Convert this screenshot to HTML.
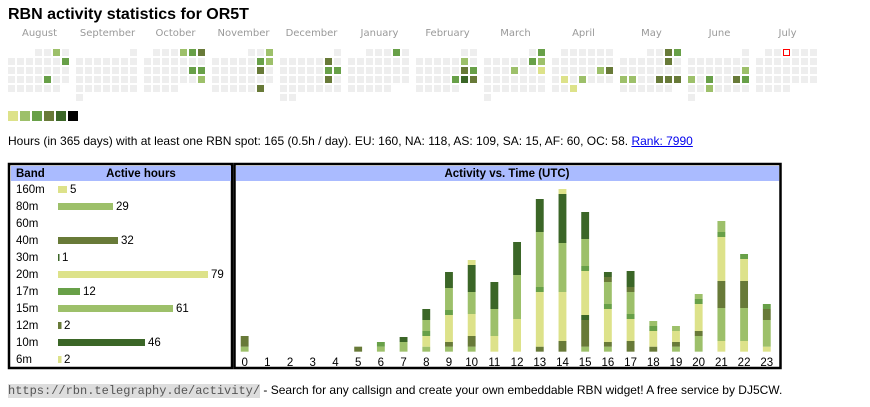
<!DOCTYPE html>
<html><head><meta charset="utf-8"><style>
body{margin:0;width:870px;height:407px;background:#fff;font-family:"Liberation Sans",Arial,sans-serif;position:relative;overflow:hidden;color:#000}
.a{position:absolute;white-space:nowrap}
.mon{position:absolute;top:28px;width:63px;text-align:center;color:#999;font-family:"DejaVu Sans",sans-serif;font-size:10px}
.cell{position:absolute;width:7px;height:7px;background:#eee;box-sizing:border-box}
</style></head><body>
<div class="a" style="left:8px;top:6px;font-size:16px;font-weight:bold">RBN activity statistics for OR5T</div>
<div id="hm"></div>
<div class="a" style="left:8px;top:111px;width:10px;height:10px;background:#dde28a"></div>
<div class="a" style="left:20px;top:111px;width:10px;height:10px;background:#9dc06a"></div>
<div class="a" style="left:32px;top:111px;width:10px;height:10px;background:#68a048"></div>
<div class="a" style="left:44px;top:111px;width:10px;height:10px;background:#687a38"></div>
<div class="a" style="left:56px;top:111px;width:10px;height:10px;background:#3b6627"></div>
<div class="a" style="left:68px;top:111px;width:10px;height:10px;background:#000"></div>
<div class="a" style="left:8px;top:134px;font-size:12px">Hours (in 365 days) with at least one RBN spot: 165 (0.5h / day). EU: 160, NA: 118, AS: 109, SA: 15, AF: 60, OC: 58. <span style="color:#00e;text-decoration:underline">Rank: 7990</span></div>

<svg class="a" style="left:0;top:0" width="870" height="407">
<rect x="9" y="164" width="223" height="204" fill="none" stroke="#000" stroke-width="2.5"/>
<rect x="11" y="166" width="220" height="15" fill="#aabbff"/>
<rect x="234.5" y="164" width="546" height="204" fill="none" stroke="#000" stroke-width="2.5"/>
<rect x="236" y="166" width="543" height="15" fill="#aabbff"/>
<g font-family="Liberation Sans,Arial,sans-serif" font-size="11.5" font-weight="bold">
<text x="16" y="177">Band</text><text x="141" y="177" text-anchor="middle">Active hours</text>
<text x="507" y="177" text-anchor="middle">Activity vs. Time (UTC)</text>
</g>
<g font-family="Liberation Sans,Arial,sans-serif" font-size="11.5">
<text x="16" y="193">160m</text><rect x="58" y="186" width="9" height="7" fill="#dde28a"/><text x="70" y="193">5</text>
<text x="16" y="210">80m</text><rect x="58" y="203" width="55" height="7" fill="#9dc06a"/><text x="116" y="210">29</text>
<text x="16" y="227">60m</text>
<text x="16" y="244">40m</text><rect x="58" y="237" width="60" height="7" fill="#687a38"/><text x="121" y="244">32</text>
<text x="16" y="261">30m</text><rect x="58" y="254" width="1.5" height="7" fill="#3b6627"/><text x="62" y="261">1</text>
<text x="16" y="278">20m</text><rect x="58" y="271" width="150" height="7" fill="#dde28a"/><text x="211" y="278">79</text>
<text x="16" y="295">17m</text><rect x="58" y="288" width="22" height="7" fill="#68a048"/><text x="83" y="295">12</text>
<text x="16" y="312">15m</text><rect x="58" y="305" width="115" height="7" fill="#9dc06a"/><text x="176" y="312">61</text>
<text x="16" y="329">12m</text><rect x="58" y="322" width="3.5" height="7" fill="#687a38"/><text x="64" y="329">2</text>
<text x="16" y="346">10m</text><rect x="58" y="339" width="87" height="7" fill="#3b6627"/><text x="148" y="346">46</text>
<text x="16" y="363">6m</text><rect x="58" y="356" width="3.5" height="7" fill="#dde28a"/><text x="64" y="363">2</text>
</g>
<g id="bars" transform="translate(230,165) scale(0.3575,0.33333)"></g>
<g id="hl" font-family="Liberation Sans,Arial,sans-serif" font-size="11.5" text-anchor="middle"></g>
</svg>

<div class="a" style="left:8px;top:383px;font-size:12px"><span style="font-family:'Liberation Mono',monospace;background:#ddd;color:#555;font-size:12px">https://rbn.telegraphy.de/activity/</span> - Search for any callsign and create your own embeddable RBN widget! A free service by DJ5CW.</div>

<script>
var C={1:'#dde28a',2:'#9dc06a',3:'#68a048',4:'#687a38',5:'#3b6627'};
var months=[['August',3,31],['September',6,30],['October',1,31],['November',4,30],['December',6,31],['January',2,31],['February',5,28],['March',5,31],['April',1,30],['May',3,31],['June',6,30],['July',1,31]];
var col={0:{'0,5':2,'1,6':3,'3,4':3},2:{'0,4':2,'0,5':3,'0,6':4,'2,5':3,'2,6':3,'3,6':2},
3:{'0,6':2,'1,5':3,'1,6':2,'2,5':4,'4,5':4},4:{'1,5':4,'2,5':3,'2,6':3,'3,5':4},5:{'0,5':3},
6:{'1,5':2,'2,5':4,'2,6':3,'3,4':3,'3,5':5,'3,6':4},7:{'0,6':3,'1,5':3,'1,6':2,'2,3':2,'2,6':1},
8:{'2,5':2,'2,6':4,'3,1':1,'3,3':2,'4,2':1},9:{'0,5':4,'0,6':3,'1,5':4,'3,0':2,'3,1':2,'3,4':4,'3,5':4,'3,6':4},
10:{'2,6':2,'3,0':2,'3,2':3,'3,5':4,'3,6':3,'4,2':2}};
var h='';
months.forEach(function(m,i){var x0=8+68*i;h+='<div class="mon" style="left:'+x0+'px">'+m[0]+'</div>';
for(var d=0;d<m[2];d++){var p=m[1]+d,r=Math.floor(p/7),c=p%7;var k=r+','+c;var bg=(col[i]&&col[i][k])?C[col[i][k]]:'#eee';
var extra='';if(i==11&&d==2){bg='#fff';extra='border:1px solid #f00;';}
h+='<div class="cell" style="left:'+(x0+9*c)+'px;top:'+(49+9*r)+'px;background:'+bg+';'+extra+'"></div>';}});
document.getElementById('hm').innerHTML=h;
var B={0:[[2,545,560],[4,513,545]],5:[[4,545,560]],6:[[2,545,560],[3,531,545]],7:[[2,531,560],[5,516,531]],
8:[[2,545,560],[1,513,545],[3,498,513],[2,465,498],[5,432,465]],
9:[[2,545,560],[4,531,545],[1,450,531],[3,435,450],[2,369,435],[5,321,369]],
10:[[2,545,560],[4,513,545],[1,447,513],[2,381,447],[5,300,381],[1,285,300]],
11:[[1,513,560],[2,432,513],[5,351,432]],12:[[1,462,560],[2,330,462],[5,231,330]],
13:[[4,545,560],[1,381,545],[3,366,381],[2,201,366],[5,102,201]],
14:[[4,528,560],[1,381,528],[2,234,381],[5,87,234],[1,72,87]],
15:[[2,545,560],[4,465,545],[5,450,465],[1,318,450],[3,303,318],[2,222,303],[5,141,222]],
16:[[2,545,560],[4,531,545],[1,432,531],[3,417,432],[2,351,417],[4,336,351],[5,321,336]],
17:[[4,528,560],[1,462,528],[3,447,462],[2,381,447],[4,366,381],[5,318,366]],
18:[[4,545,560],[1,498,545],[3,483,498],[2,468,483]],19:[[2,545,560],[4,531,545],[1,498,531],[2,483,498]],
20:[[2,513,560],[4,498,513],[1,417,498],[3,402,417],[2,387,402]],
21:[[1,528,560],[2,429,528],[4,348,429],[1,216,348],[3,201,216],[2,168,201]],
22:[[1,528,560],[2,429,528],[4,348,429],[1,282,348],[3,267,282]],
23:[[1,545,560],[2,465,545],[4,432,465],[3,417,432]]};
var s='',t='';
for(var hr=0;hr<24;hr++){var x=30+hr*63.5;(B[hr]||[]).forEach(function(g){s+='<rect x="'+x+'" y="'+g[1]+'" width="22" height="'+(g[2]-g[1])+'" fill="'+C[g[0]]+'"/>';});
t+='<text x="'+(230+(x+11)*0.3575)+'" y="366">'+hr+'</text>';}
document.getElementById('bars').innerHTML=s;document.getElementById('hl').innerHTML=t;
</script>
</body></html>
